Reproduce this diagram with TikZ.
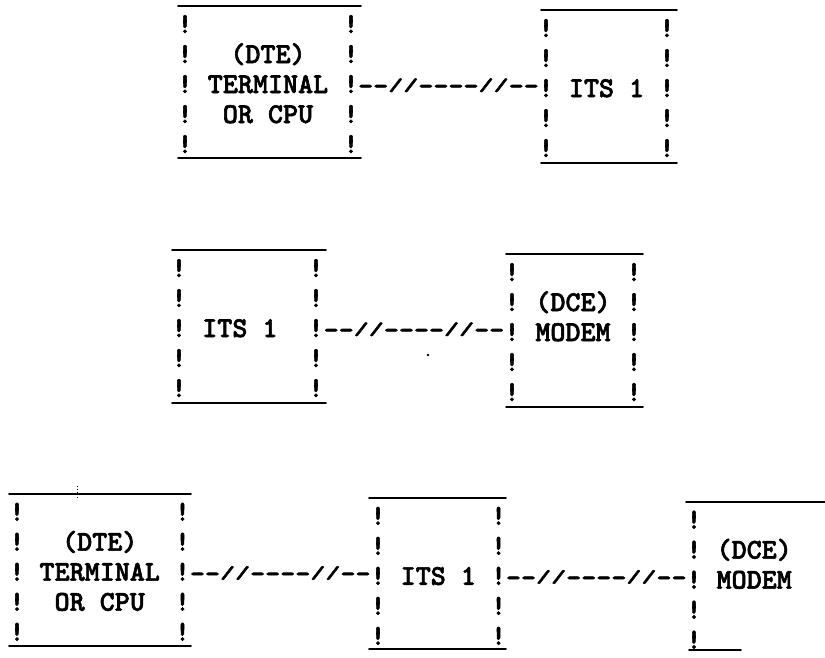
\documentclass[tikz,border=0pt]{standalone}
\usepackage{fontspec}
\usepackage{graphicx}
\usetikzlibrary{calc}
\newfontfamily\tw[Ligatures=TeXOff,FakeBold=2]{lmmonolt10-bold.otf}
\newcommand\tslash{\raisebox{0.15em}{\scalebox{1}[0.62]{/}}}
\newcommand\wiretext{-\kern0pt-\tslash\tslash-\kern0pt-\kern0pt-\kern0pt-\tslash\tslash-\kern0pt-}
\newcommand\bangcol[3]{\foreach \r in {0,...,4}{\node[bang] (#1\r) at (#2,#3+30*\r) {!};}}
\tikzset{
  tw/.style={font=\tw\fontsize{28.67}{30}\selectfont, inner sep=0pt, outer sep=0pt, anchor=base},
  bang/.style={tw},
  lbl/.style={tw},
  wire/.style={tw},
  frame/.style={draw=none, inner sep=0pt, outer sep=0pt, anchor=north west},
  rule/.style={line width=1.8pt, line cap=round}
}
\begin{document}
\begin{tikzpicture}[x=1pt,y=-1pt]
\useasboundingbox[fill=white] (0,0) rectangle (825,657);

% ---------- row 1 ----------
\node[frame, minimum width=183pt, minimum height=152pt] (A) at (178,6) {};
\node[frame, minimum width=136pt, minimum height=153pt] (B) at (541,10) {};
\bangcol{A-l}{185}{33}
\bangcol{A-r}{351}{33}
\bangcol{B-l}{546}{37}
\bangcol{B-r}{667}{37}
\node[lbl] (A-t1) at ($(A-l1.base)!0.5!(A-r1.base)$) {(DTE)};
\node[lbl] (A-t2) at ($(A-l2.base)!0.5!(A-r2.base)$) {TERMINAL};
\node[lbl] (A-t3) at ($(A-l3.base)!0.5!(A-r3.base)$) {OR CPU};
\node[lbl] (B-t2) at ($(B-l2.base)!0.5!(B-r2.base)$) {ITS 1};
\node[wire] (c1) at ($(A-r2.base)!0.5!(B-l2.base)$) {\wiretext};

% ---------- row 2 ----------
\node[frame, minimum width=154pt, minimum height=153pt] (C) at (172,250) {};
\node[frame, minimum width=137pt, minimum height=153pt] (D) at (506,254) {};
\bangcol{C-l}{179}{277}
\bangcol{C-r}{316}{277}
\bangcol{D-l}{512}{281}
\bangcol{D-r}{634}{281}
\node[lbl] (C-t2) at ($(C-l2.base)!0.5!(C-r2.base)+(-7.6,0)$) {ITS 1};
\node[lbl] (D-t1) at ($(D-l1.base)!0.5!(D-r1.base)$) {(DCE)};
\node[lbl] (D-t2) at ($(D-l2.base)!0.5!(D-r2.base)$) {MODEM};
\node[wire] (c2) at ($(C-r2.base)!0.5!(D-l2.base)$) {\wiretext};

% ---------- row 3 ----------
\node[frame, minimum width=182pt, minimum height=152pt] (E) at (9,493.7) {};
\node[frame, minimum width=137pt, minimum height=151pt] (F) at (369,497.8) {};
\node[frame, minimum width=139pt, minimum height=148pt] (G) at (686,501.6) {};
\bangcol{E-l}{17}{520.7}
\bangcol{E-r}{182.5}{520.7}
\bangcol{F-l}{378}{524.8}
\bangcol{F-r}{498.6}{524.8}
\bangcol{G-l}{694}{528.6}
\node[lbl] (E-t1) at ($(E-l1.base)!0.5!(E-r1.base)$) {(DTE)};
\node[lbl] (E-t2) at ($(E-l2.base)!0.5!(E-r2.base)$) {TERMINAL};
\node[lbl] (E-t3) at ($(E-l3.base)!0.5!(E-r3.base)$) {OR CPU};
\node[lbl] (F-t2) at ($(F-l2.base)!0.5!(F-r2.base)$) {ITS 1};
\node[lbl] (G-t1) at ($(G-l1.base)+(60.2,0)$) {(DCE)};
\node[lbl] (G-t2) at ($(G-l2.base)+(60.2,0)$) {MODEM};
\node[wire] (c3) at ($(E-r2.base)!0.5!(F-l2.base)$) {\wiretext};
\node[wire] (c4) at ($(F-r2.base)!0.5!(G-l2.base)$) {\wiretext};

% ---------- rules (underscores) ----------
\foreach \b in {A,B,C,D,E,F}{
  \draw[rule] (\b.north west) -- (\b.north east);
  \draw[rule] (\b.south west) -- (\b.south east);
}
\draw[rule] (G.north west) -- (G.north east);
\draw[rule] ([xshift=3pt]G.south west) -- ([xshift=55pt]G.south west);

% ---------- specks ----------
\fill (428,355) circle (1.3pt);
\draw[line width=0.8pt, dotted] (77,486) -- (77,500);
\end{tikzpicture}
\end{document}
